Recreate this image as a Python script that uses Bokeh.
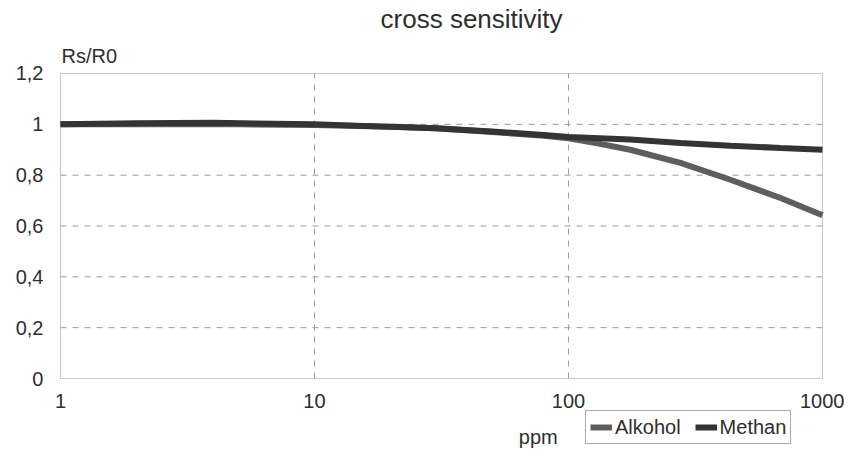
from bokeh.plotting import figure
from bokeh.models import FixedTicker, Label, Legend, LegendItem, BoxAnnotation
from bokeh.embed import file_html
from bokeh.resources import INLINE

# Data
alk_ppm = [1, 2, 5, 10, 20, 30, 50, 80, 100, 130, 175, 276, 434, 684, 1000]
alk_val = [1.0, 1.0, 1.0, 0.997, 0.99, 0.985, 0.97, 0.955, 0.945, 0.925, 0.90, 0.848, 0.782, 0.71, 0.642]
met_ppm = [1, 2, 4, 10, 20, 30, 50, 80, 100, 175, 276, 434, 684, 1000]
met_val = [1.0, 1.004, 1.006, 1.0, 0.99, 0.985, 0.972, 0.958, 0.95, 0.94, 0.927, 0.916, 0.907, 0.90]

y_ticks = [0, 0.2, 0.4, 0.6, 0.8, 1.0, 1.2]
y_tick_labels = ["0", "0,2", "0,4", "0,6", "0,8", "1", "1,2"]
x_ticks = [1, 10, 100, 1000]
x_tick_labels = ["1", "10", "100", "1000"]
y_grid = [0.2, 0.4, 0.6, 0.8, 1.0]
x_grid = [10, 100]

FONT = "Liberation Sans"
TXT = "#2e2e2e"
GRID = "#9a9a9a"

p = figure(width=844, height=451, x_axis_type="log", x_range=(0.5805, 1221), y_range=(-0.2872, 1.4872),
           output_backend="svg", toolbar_location=None,
           min_border_left=0, min_border_right=0, min_border_top=0, min_border_bottom=0)

p.outline_line_color = None
p.xgrid.visible = False
p.ygrid.visible = False

for ax in (p.xaxis[0], p.yaxis[0]):
    ax.axis_line_color = None
    ax.major_tick_line_color = None
    ax.minor_tick_line_color = None
    ax.major_tick_out = 0
    ax.major_tick_in = 0
    ax.major_label_text_font = FONT
    ax.major_label_text_font_size = "20px"
    ax.major_label_text_color = TXT

p.yaxis.fixed_location = x_ticks[0]
p.yaxis.ticker = FixedTicker(ticks=y_ticks)
p.yaxis.major_label_overrides = {t: l for t, l in zip(y_ticks, y_tick_labels)}
p.yaxis.major_label_standoff = 17

p.xaxis.fixed_location = y_ticks[0]
p.xaxis.ticker = FixedTicker(ticks=x_ticks)
p.xaxis.major_label_overrides = {t: l for t, l in zip(x_ticks, x_tick_labels)}
p.xaxis.major_label_standoff = 15

# dashed grid lines inside the plot box
p.segment(x0=[x_ticks[0]] * len(y_grid), x1=[x_ticks[-1]] * len(y_grid), y0=y_grid, y1=y_grid,
          line_color=GRID, line_dash="6 6", line_width=1)
p.segment(x0=x_grid, x1=x_grid, y0=[y_ticks[0]] * len(x_grid), y1=[y_ticks[-1]] * len(x_grid),
          line_color=GRID, line_dash="6 6", line_width=1)

# plot box
p.add_layout(BoxAnnotation(left=x_ticks[0], right=x_ticks[-1], bottom=y_ticks[0], top=y_ticks[-1],
                           fill_color=None, fill_alpha=0, line_color="#444444", line_width=1,
                           level="underlay"))

r_alk = p.line(alk_ppm, alk_val, line_color="#5e5e5e", line_width=6)
r_met = p.line(met_ppm, met_val, line_color="#343434", line_width=6)

# texts
p.add_layout(Label(x=18.2, y=1.4125, text="cross sensitivity", text_font=FONT, text_font_size="26px",
                   text_color=TXT, text_baseline="alphabetic", text_align="left"))
p.add_layout(Label(x=1, y=1.2708, x_offset=1, text="Rs/R0", text_font=FONT, text_font_size="20px",
                   text_color=TXT, text_baseline="alphabetic", text_align="left"))
p.add_layout(Label(x=76, y=-0.2321, text="ppm", text_font=FONT, text_font_size="20px",
                   text_color=TXT, text_baseline="alphabetic", text_align="center"))

legend = Legend(items=[LegendItem(label="Alkohol", renderers=[r_alk]),
                       LegendItem(label="Methan", renderers=[r_met])],
                location=(585, 7), orientation="horizontal",
                label_text_font=FONT, label_text_font_size="20px", label_text_color=TXT,
                glyph_width=22, glyph_height=10, label_standoff=3, spacing=14,
                padding=4, margin=0, border_line_color="#555555", border_line_width=1,
                label_height=24, background_fill_alpha=0)
p.add_layout(legend, "center")

open("out.html", "w").write(file_html(p, INLINE))
